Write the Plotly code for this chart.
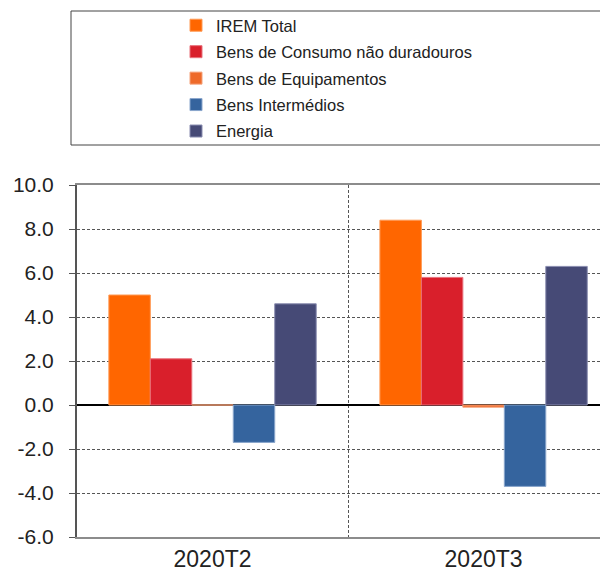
import plotly.graph_objects as go

periods = ["2020T2", "2020T3"]
irem_total = [5.0, 8.4]
consumo_nao_duradouros = [2.1, 5.8]
equipamentos = [0.0, -0.1]
intermedios = [-1.7, -3.7]
energia = [4.6, 6.3]

y_ticks = [-6, -4, -2, 0, 2, 4, 6, 8, 10]
y_tick_labels = ["-6.0", "-4.0", "-2.0", "0.0", "2.0", "4.0", "6.0", "8.0", "10.0"]

series = [
    ("IREM Total", irem_total, "#FF6600", "#FF9A55"),
    ("Bens de Consumo não duradouros", consumo_nao_duradouros, "#D91F2B", "#E8707A"),
    ("Bens de Equipamentos", equipamentos, "#EE6A2A", "#F5A27A"),
    ("Bens Intermédios", intermedios, "#35649E", "#8AA6CC"),
    ("Energia", energia, "#464A76", "#8A8DB0"),
]

fig = go.Figure()
for i, (name, vals, color, edge) in enumerate(series):
    fig.add_trace(go.Bar(
        x=periods, y=vals, name=name, legendgroup=str(i),
        marker=dict(color=color, line=dict(color=edge, width=1)),
    ))

# page has an 8px body margin, so the figure is drawn 8px in from the corner
fig.update_layout(
    width=600, height=568,
    margin=dict(l=69, r=0, t=177, b=39, autoexpand=False),
    paper_bgcolor="white", plot_bgcolor="white",
    font=dict(family="Liberation Sans, Arial, sans-serif", color="#222"),
    barmode="group", bargap=0.235, bargroupgap=0,
    showlegend=True,
    legend=dict(
        xref="container", yref="container",
        x=168 / 600, y=1.0, xanchor="left", yanchor="top",
        font=dict(size=16.5, color="#222"),
        tracegroupgap=2, bgcolor="rgba(0,0,0,0)",
        itemclick=False,
    ),
    shapes=[dict(
        type="rect", xref="paper", yref="paper",
        x0=-6 / 531, x1=1.05, y0=(529 - 137) / 352, y1=(529 - 3) / 352,
        line=dict(color="#444", width=1), fillcolor="rgba(0,0,0,0)",
    )],
)

fig.update_xaxes(
    range=[-0.5, 1.459], tickson="boundaries",
    showgrid=True, griddash="3px,2px", gridcolor="#555", gridwidth=1,
    showline=True, mirror=True, linecolor="#8c8c8c", linewidth=2,
    ticks="", tickangle=0, tickfont=dict(size=23, color="#222"),
)
fig.update_yaxes(
    range=[-6, 10], tickvals=y_ticks, ticktext=y_tick_labels,
    showgrid=True, griddash="3px,2px", gridcolor="#555", gridwidth=1,
    zeroline=True, zerolinecolor="#000", zerolinewidth=1.5,
    showline=True, linecolor="#555", linewidth=2,
    ticks="outside", ticklen=6, tickcolor="#555", ticklabelstandoff=11,
    tickfont=dict(size=21, color="#222"),
)

fig.write_html("out.html")
